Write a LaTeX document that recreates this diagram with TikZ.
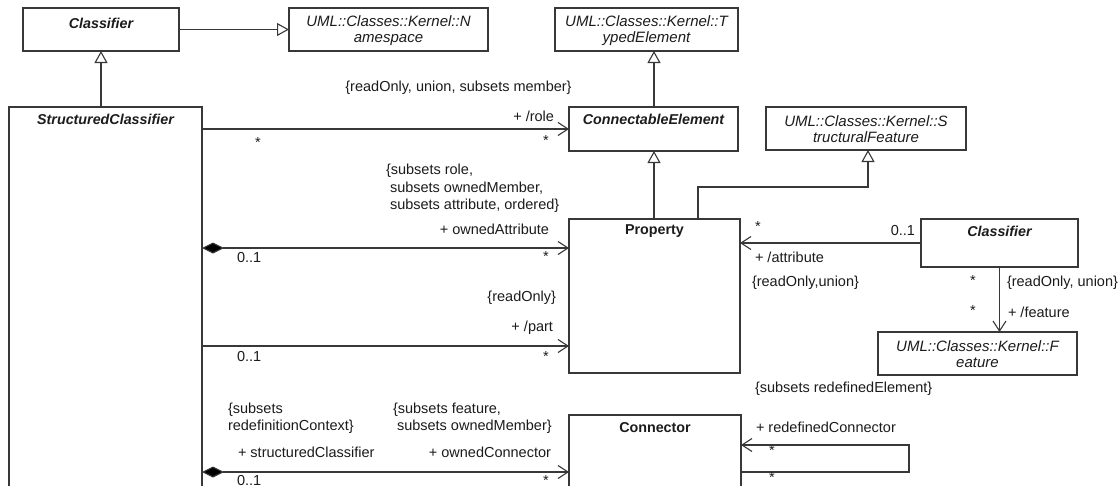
\documentclass[tikz,border=0pt]{standalone}
\usepackage{fontspec}
\setmainfont{Liberation Sans}
\usetikzlibrary{arrows.meta}
\definecolor{linec}{HTML}{383838}
\definecolor{txt}{HTML}{1C1C1C}
\begin{document}
\begin{tikzpicture}[x=1pt,y=-1pt,
  line width=1.1pt,
  every node/.style={inner sep=0pt, outer sep=0pt},
  cls/.style={draw=linec, fill=white, anchor=north west, line width=1.1pt},
  abstitle/.style={font=\fontsize{14.3}{15.5}\selectfont\bfseries\itshape, text=txt},
  contitle/.style={font=\fontsize{14.3}{15.5}\selectfont\bfseries, text=txt},
  kernel/.style={font=\fontsize{15}{16}\selectfont\itshape, text=txt, align=center},
  lab/.style={font=\fontsize{14.5}{17.5}\selectfont, text=txt},
  conn/.style={draw=linec, line width=1.1pt},
  gen/.style={conn, -{Triangle[open, length=12pt, width=13pt, fill=white]}},
  nav/.style={conn, -{Straight Barb[length=10pt, width=13pt]}},
  comp/.style={conn, {Diamond[length=22pt, width=11pt, fill=black]}-{Straight Barb[length=10pt, width=13pt]}}
]
\fill[white] (0,0) rectangle (1120,485);
\useasboundingbox (0,0) rectangle (1120,485);

% ---- classes ----
\node[cls, minimum width=156pt, minimum height=43pt] (clsA) at (23,8) {};
\node[abstitle] (clsA-t) at (101,23) {Classifier};

\node[cls, minimum width=199pt, minimum height=43pt] (ns) at (289,8) {};
\node[kernel] (ns-t) at (388.5,30.5) {UML::Classes::Kernel::N\\amespace};

\node[cls, minimum width=183pt, minimum height=43pt] (te) at (555,8) {};
\node[kernel] (te-t) at (646.5,30.5) {UML::Classes::Kernel::T\\ypedElement};

\node[cls, minimum width=193pt, minimum height=400pt] (sc) at (9,107) {};
\node[abstitle] (sc-t) at (105.5,119) {StructuredClassifier};

\node[cls, minimum width=169pt, minimum height=44pt] (ce) at (569,107) {};
\node[abstitle] (ce-t) at (653.5,119) {ConnectableElement};

\node[cls, minimum width=200pt, minimum height=43pt] (sf) at (766,107) {};
\node[kernel] (sf-t) at (866,129) {UML::Classes::Kernel::S\\tructuralFeature};

\node[cls, minimum width=171pt, minimum height=154pt] (prop) at (569,219) {};
\node[contitle] (prop-t) at (654.5,231) {Property};

\node[cls, minimum width=157pt, minimum height=48pt] (clsR) at (921,219) {};
\node[abstitle] (clsR-t) at (999.5,231) {Classifier};

\node[cls, minimum width=199pt, minimum height=43pt] (feat) at (878,332) {};
\node[kernel] (feat-t) at (977.5,354) {UML::Classes::Kernel::F\\eature};

\node[cls, minimum width=172pt, minimum height=90pt] (con) at (569,415) {};
\node[contitle] (con-t) at (655,428) {Connector};

% ---- levels and bends used by the connectors ----
\coordinate (yAttr) at (0,248);
\coordinate (yPart) at (0,346);
\coordinate (yConn) at (0,472);
\coordinate (yRedef) at (0,445);
\coordinate (gx) at (654,0);
\coordinate (bendP) at (698,187);
\coordinate (bendS) at (868,187);
\coordinate (loopR) at (909,0);

% ---- generalizations ----
\draw[gen] (clsA.east) -- (ns.west);
\draw[gen] (sc.north -| clsA.south) -- (clsA.south);
\draw[gen] (ce.north -| gx) -- (te.south -| gx);
\draw[gen] (prop.north -| gx) -- (ce.south -| gx);
\draw[gen] (prop.north -| bendP) -- (bendP) -- (bendS) -- (sf.south -| bendS);

% ---- associations ----
\draw[nav] (sc.east |- ce.west) -- (ce.west);
\draw[comp] (sc.east |- yAttr) -- (prop.west |- yAttr);
\draw[nav] (sc.east |- yPart) -- (prop.west |- yPart);
\draw[comp] (sc.east |- yConn) -- (con.west |- yConn);
\draw[nav] (clsR.west) -- (prop.east |- clsR.west);
\draw[nav] (clsR.south) -- (feat.north -| clsR.south);
\draw[nav] (con.east |- yConn) -- (loopR |- yConn) -- (loopR |- yRedef) -- (con.east |- yRedef);

% ---- role ----
\node[lab] (l-role-c) at (458.5,88) {\{readOnly, union, subsets member\}};
\node[lab, anchor=east] (l-role) at (554,116) {+ /role};
\node[lab] (l-role-m1) at (258,143) {*};
\node[lab] (l-role-m2) at (546,141) {*};

% ---- ownedAttribute ----
\node[lab, anchor=west, align=left] (l-oa-c) at (386,188.5)
  {\{subsets role,\\\hspace*{4pt}subsets ownedMember,\\\hspace*{4pt}subsets attribute, ordered\}};
\node[lab, anchor=east] (l-oa) at (549,229) {+ ownedAttribute};
\node[lab, anchor=west] (l-oa-m1) at (237,258) {0..1};
\node[lab] (l-oa-m2) at (546,257) {*};

% ---- part ----
\node[lab, anchor=east] (l-part-c) at (556,298) {\{readOnly\}};
\node[lab, anchor=east] (l-part) at (553,328) {+ /part};
\node[lab, anchor=west] (l-part-m1) at (237,357) {0..1};
\node[lab] (l-part-m2) at (546,357) {*};

% ---- ownedConnector ----
\node[lab, anchor=west, align=left] (l-sc-c) at (228,418) {\{subsets\\redefinitionContext\}};
\node[lab, anchor=west, align=left] (l-oc-c) at (393,418) {\{subsets feature,\\\hspace*{4pt}subsets ownedMember\}};
\node[lab, anchor=west] (l-sc) at (238,452) {+ structuredClassifier};
\node[lab, anchor=east] (l-oc) at (551,452) {+ ownedConnector};
\node[lab, anchor=west] (l-oc-m1) at (237,481) {0..1};
\node[lab] (l-oc-m2) at (546,481) {*};

% ---- redefinedConnector ----
\node[lab, anchor=west] (l-rc-c) at (755,389) {\{subsets redefinedElement\}};
\node[lab, anchor=west] (l-rc) at (756,427) {+ redefinedConnector};
\node[lab] (l-rc-m1) at (772,451) {*};
\node[lab] (l-rc-m2) at (772,478) {*};

% ---- attribute ----
\node[lab] (l-at-m1) at (758,227) {*};
\node[lab, anchor=west] (l-at) at (755,257) {+ /attribute};
\node[lab, anchor=west] (l-at-c) at (752,283) {\{readOnly,union\}};
\node[lab, anchor=east] (l-at-m2) at (915,231) {0..1};

% ---- feature ----
\node[lab] (l-fe-m1) at (973,281) {*};
\node[lab] (l-fe-m2) at (973,311) {*};
\node[lab, anchor=west] (l-fe-c) at (1007,283) {\{readOnly, union\}};
\node[lab, anchor=west] (l-fe) at (1008,312) {+ /feature};
\end{tikzpicture}
\end{document}
